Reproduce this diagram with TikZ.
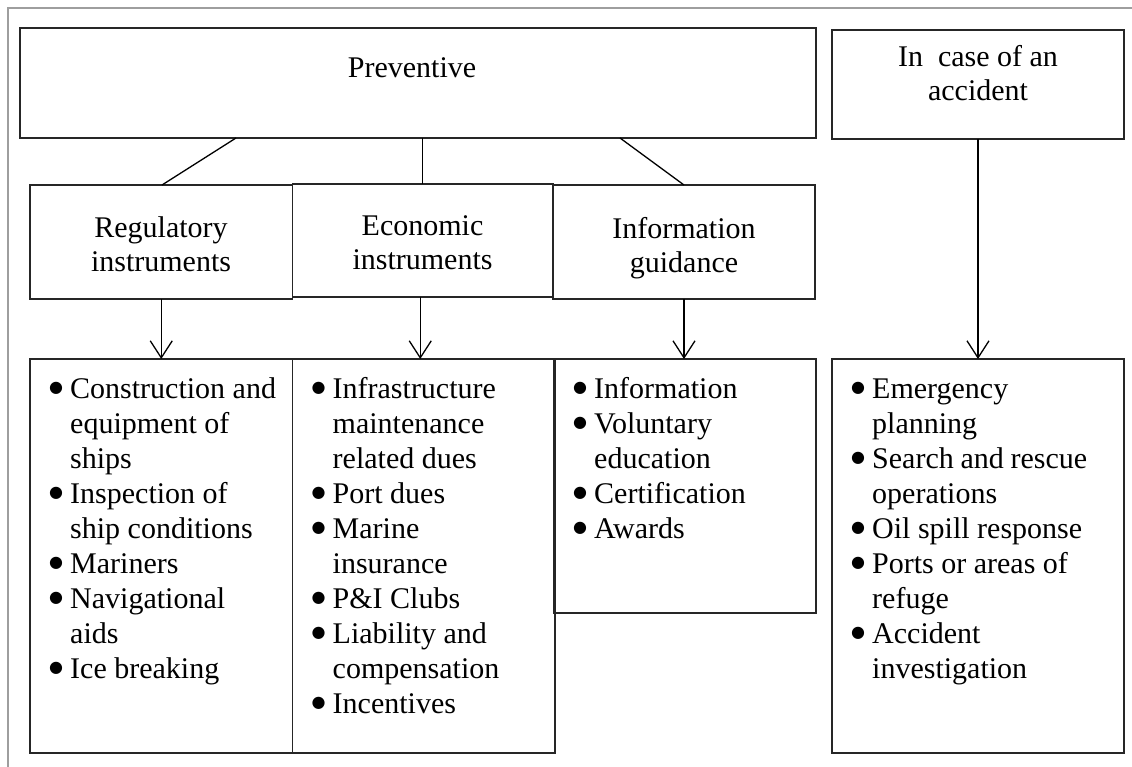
\documentclass[tikz,border=0pt]{standalone}
\usepackage{fontspec}
\setmainfont{Liberation Serif}
\newfontfamily\dejavu{DejaVu Sans}
\usetikzlibrary{arrows.meta}
\newsavebox\bulbox
\newcommand\bigbul{\sbox\bulbox{\dejavu\fontsize{16}{16}\selectfont ●}%
  \raisebox{\dimexpr 9.5pt-(\ht\bulbox-\dp\bulbox)/2\relax}{\usebox\bulbox}}
\newcommand\itm[1]{\par\noindent\hangindent=40pt\hangafter=1\makebox[40pt][l]{\hspace{19pt}\bigbul}#1}
\newcommand\listtext[1]{\parbox[t]{255pt}{\fontsize{30}{35}\selectfont\rightskip=0pt plus 1fil\parfillskip=0pt plus 1fil #1}}
\newcommand\titletext[1]{\parbox[t]{280pt}{\fontsize{30}{34}\selectfont\centering #1}}
\begin{document}
\begin{tikzpicture}[x=1pt,y=-1pt,
  box/.style={draw=black!85, line width=1.3pt, rectangle, inner sep=0pt, outer sep=0pt, anchor=north west},
  link/.style={line width=1.3pt, draw=black},
  arr/.style={line width=1.3pt, draw=black, -{Straight Barb[length=17pt,width=22pt]}},
  frameline/.style={draw=black!38, line width=1.5pt},
  txt/.style={inner sep=0pt, anchor=base},
  ltxt/.style={inner sep=0pt, anchor=base west}]
\useasboundingbox (0,0) rectangle (1132,767);
\draw[frameline] (1132,8) -- (8,8) -- (8,767);

% top boxes
\node[box, minimum width=796pt, minimum height=110pt] (prev) at (20,28) {};
\node[box, minimum width=292pt, minimum height=109pt] (acc) at (832,30) {};
% middle boxes
\node[box, minimum width=262.5pt, minimum height=114pt] (reg) at (30,185) {};
\node[box, minimum width=262pt, minimum height=114pt] (inf) at (553,185) {};
\node[box, minimum width=260.5pt, minimum height=113pt] (eco) at (292.5,184) {};
% list boxes
\node[box, minimum width=262.5pt, minimum height=394pt] (regl) at (30,359) {};
\node[box, minimum width=262.5pt, minimum height=394pt] (ecol) at (292.5,359) {};
\node[box, minimum width=262pt, minimum height=254pt] (infl) at (554,359) {};
\node[box, minimum width=292pt, minimum height=394pt] (accl) at (832,359) {};

% titles
\node[txt] (prevtxt) at (412,78) {\titletext{Preventive}};
\node[txt] (acctxt) at (978,67) {\titletext{In\ \ case of an\\accident}};
\node[txt] (regtxt) at (161,238) {\titletext{Regulatory\\instruments}};
\node[txt] (ecotxt) at (422.5,236) {\titletext{Economic\\instruments}};
\node[txt] (inftxt) at (684,239) {\titletext{Information\\guidance}};

% lists
\node[ltxt] (regltxt) at (30,398) {\listtext{%
\itm{Construction and\\equipment of\\ships}
\itm{Inspection of\\ship conditions}
\itm{Mariners}
\itm{Navigational\\aids}
\itm{Ice breaking}}};
\node[ltxt] (ecoltxt) at (292.5,398) {\listtext{%
\itm{Infrastructure\\maintenance\\related dues}
\itm{Port dues}
\itm{Marine\\insurance}
\itm{P\&I Clubs}
\itm{Liability and\\compensation}
\itm{Incentives}}};
\node[ltxt] (infltxt) at (554,398) {\listtext{%
\itm{Information}
\itm{Voluntary\\education}
\itm{Certification}
\itm{Awards}}};
\node[ltxt] (accltxt) at (832,398) {\listtext{%
\itm{Emergency\\planning}
\itm{Search and rescue\\operations}
\itm{Oil spill response}
\itm{Ports or areas of\\refuge}
\itm{Accident\\investigation}}};

% connectors
\draw[link] ([xshift=216pt]prev.south west) -- ([xshift=132pt]reg.north west);
\draw[link] (eco.north |- prev.south) -- (eco.north);
\draw[link] ([xshift=600pt]prev.south west) -- (inf.north);
\draw[arr] (reg.south) -- (reg.south |- regl.north);
\draw[arr] ([xshift=-2.5pt]eco.south) -- ([xshift=-2.5pt]eco.south |- ecol.north);
\draw[arr] (inf.south) -- (inf.south |- infl.north);
\draw[arr] (acc.south) -- (acc.south |- accl.north);
\end{tikzpicture}
\end{document}
